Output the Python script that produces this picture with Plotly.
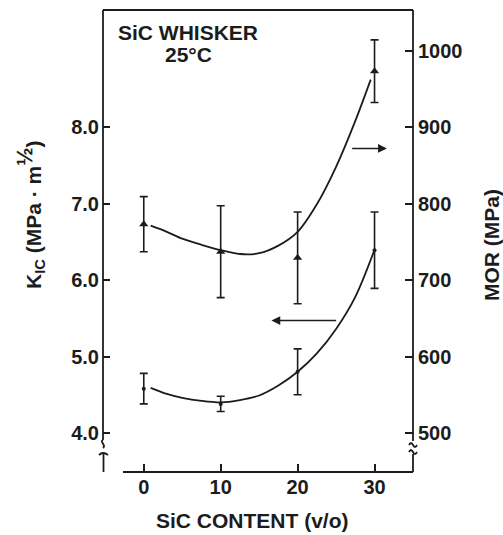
import plotly.graph_objects as go

# ---- data ----
sic_content = [0, 10, 20, 30]
kic_values = [4.58, 4.38, 4.80, 6.39]
kic_err = [0.20, 0.10, 0.30, 0.50]
mor_values = [773, 737, 729, 973]
mor_err = [36, 60, 60, 41]

# fitted (hand-drawn) curves
kic_curve_x = [0.9, 3, 5, 7.5, 10, 12.5, 15, 17.5, 20, 22.5, 25, 27.5, 29.9]
kic_curve_y = [4.59, 4.51, 4.46, 4.42, 4.40, 4.43, 4.49, 4.62, 4.80, 5.04, 5.36, 5.78, 6.37]
mor_curve_x = [0.9, 3, 5, 7.5, 10, 12.5, 15, 17.5, 20, 22.5, 25, 27.5, 29.5]
mor_curve_y = [771, 763, 754, 746, 739, 734, 735, 745, 763, 799, 848, 908, 962]

x_ticks = [0, 10, 20, 30]
kic_ticks = [4.0, 5.0, 6.0, 7.0, 8.0]
mor_ticks = [500, 600, 700, 800, 900, 1000]

# ---- layout geometry (pixels) ----
W, H = 503, 535
L, R, T, B = 103, 413, 10, 472


def px(x):
    return (x - L) / (R - L)


def py(y):
    return (B - y) / (B - T)


def pt(x, y):
    return f"{px(x):.5f},{py(y):.5f}"


INK = "#1c1c1c"
FAMILY = "Liberation Sans, Arial, sans-serif"
TICKFONT = dict(family=FAMILY, size=20, color=INK, weight="bold")
TITLEFONT = dict(family=FAMILY, size=21, color=INK, weight="bold")

fig = go.Figure()

# curves
fig.add_trace(go.Scatter(x=kic_curve_x, y=kic_curve_y, mode="lines",
                         line=dict(color=INK, width=1.8, shape="spline", smoothing=0.9),
                         yaxis="y", hoverinfo="skip"))
fig.add_trace(go.Scatter(x=mor_curve_x, y=mor_curve_y, mode="lines",
                         line=dict(color=INK, width=1.8, shape="spline", smoothing=0.9),
                         yaxis="y2", hoverinfo="skip"))
# data points with error bars
fig.add_trace(go.Scatter(x=sic_content, y=kic_values, mode="markers",
                         marker=dict(symbol="circle", size=4, color=INK),
                         error_y=dict(type="data", array=kic_err, width=4, thickness=1.6, color=INK),
                         yaxis="y"))
fig.add_trace(go.Scatter(x=sic_content, y=mor_values, mode="markers",
                         marker=dict(symbol="triangle-up", size=8, color=INK),
                         error_y=dict(type="data", array=mor_err, width=4, thickness=1.6, color=INK),
                         yaxis="y2"))

lw = 1.8
line_style = dict(color=INK, width=lw)
shapes = []


def seg(x0, y0, x1, y1):
    shapes.append(dict(type="line", xref="paper", yref="paper", x0=px(x0), y0=py(y0), x1=px(x1), y1=py(y1),
                       line=line_style, layer="above"))


def path(d):
    shapes.append(dict(type="path", xref="paper", yref="paper", path=d, line=line_style, layer="above"))


# frame
seg(L, T, R, T)
seg(L, T, L, 440)
seg(R, T, R, 441)
seg(123, B, R, B)
seg(R, 454, R, B)
# left break: squiggle + T cap
path(f"M {pt(103, 440)} C {pt(99, 442)} {pt(107, 445)} {pt(103, 448)}")
path(f"M {pt(99, 455)} Q {pt(103, 451)} {pt(108, 455)}")
seg(103.5, 453, 103.5, B)
# right break: two tildes
path(f"M {pt(409, 445)} Q {pt(411, 441)} {pt(413, 445)} T {pt(417, 445)}")
path(f"M {pt(409, 452)} Q {pt(411, 448)} {pt(413, 452)} T {pt(417, 452)}")

annotations = [
    dict(text="SiC WHISKER", x=px(188), y=py(32), xref="paper", yref="paper", showarrow=False,
         font=TITLEFONT, xanchor="center", yanchor="middle"),
    dict(text="25°C", x=px(188), y=py(55), xref="paper", yref="paper", showarrow=False,
         font=TITLEFONT, xanchor="center", yanchor="middle"),
    dict(text="SiC CONTENT (v/o)", x=px(252), y=py(520), xref="paper", yref="paper", showarrow=False,
         font=TITLEFONT, xanchor="center", yanchor="middle"),
    dict(text='K<sub>IC</sub> (MPa · m<sup><span style="font-size:22px">½</span></sup>)',
         x=px(30), y=py(215), xref="paper", yref="paper",
         showarrow=False, textangle=-90, font=TITLEFONT, xanchor="center", yanchor="middle"),
    dict(text="MOR (MPa)", x=px(492), y=py(245), xref="paper", yref="paper",
         showarrow=False, textangle=-90, font=TITLEFONT, xanchor="center", yanchor="middle"),
    # arrows indicating which axis each curve belongs to
    dict(x=31.6, y=872, xref="x", yref="y2", ax=26.9, ay=872, axref="x", ayref="y2", text="",
         showarrow=True, arrowhead=2, arrowsize=1.1, arrowwidth=1.6, arrowcolor=INK),
    dict(x=16.6, y=5.47, xref="x", yref="y", ax=25.2, ay=5.47, axref="x", ayref="y", text="",
         showarrow=True, arrowhead=2, arrowsize=1.1, arrowwidth=1.6, arrowcolor=INK),
]

fig.update_layout(
    width=W, height=H,
    margin=dict(l=L, r=W - R, t=T, b=H - B, pad=0),
    paper_bgcolor="white", plot_bgcolor="white",
    showlegend=False,
    shapes=shapes,
    annotations=annotations,
    xaxis=dict(range=[-5.3, 35.0], tickvals=x_ticks, ticks="inside", ticklen=8, tickwidth=1.6, tickcolor=INK,
               showline=False, showgrid=False, zeroline=False, tickfont=TICKFONT, ticklabelstandoff=1),
    yaxis=dict(range=[3.49, 9.53], tickvals=kic_ticks, tickformat=".1f", ticks="inside", ticklen=7,
               tickwidth=1.6, tickcolor=INK, showline=False, showgrid=False, zeroline=False, tickfont=TICKFONT,
               ticklabelstandoff=3),
    yaxis2=dict(range=[449, 1053], tickvals=mor_ticks, overlaying="y", side="right", ticks="inside", ticklen=8,
                tickwidth=1.6, tickcolor=INK, showline=False, showgrid=False, zeroline=False, tickfont=TICKFONT,
                ticklabelstandoff=4),
)

fig.write_html("out.html")
